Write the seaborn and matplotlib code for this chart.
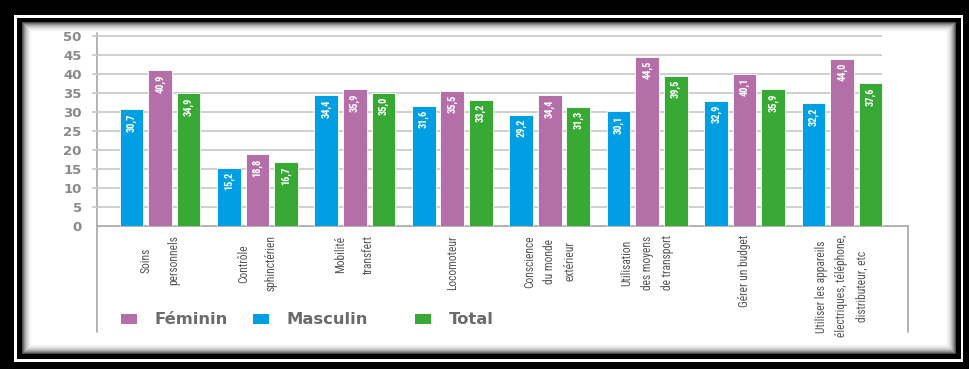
import matplotlib
matplotlib.use("Agg")
import matplotlib.pyplot as plt
import seaborn as sns
import pandas as pd
from matplotlib.patches import Rectangle
from matplotlib.lines import Line2D
from matplotlib import font_manager

# ---------------- data ----------------
categories = [
    "Soins\npersonnels",
    "Contrôle\nsphinctérien",
    "Mobilité\ntransfert",
    "Locomoteur",
    "Conscience\ndu monde\nextérieur",
    "Utilisation\ndes moyens\nde transport",
    "Gérer un budget",
    "Utiliser les appareils\nélectriques, téléphone,\ndistributeur, etc",
]
masculin = [30.7, 15.2, 34.4, 31.6, 29.2, 30.1, 32.9, 32.2]
feminin = [40.9, 18.8, 35.9, 35.5, 34.4, 44.5, 40.1, 44.0]
total = [34.9, 16.7, 35.0, 33.2, 31.3, 39.5, 35.9, 37.6]
series_order = ["Masculin", "Féminin", "Total"]
legend_order = ["Féminin", "Masculin", "Total"]
yticks = [0, 5, 10, 15, 20, 25, 30, 35, 40, 45, 50]

values = {"Masculin": masculin, "Féminin": feminin, "Total": total}
colors = {"Masculin": "#009fe3", "Féminin": "#b56fa8", "Total": "#39a935"}

rows = []
for s in series_order:
    for c, v in zip(categories, values[s]):
        rows.append({"cat": c, "serie": s, "val": v})
df = pd.DataFrame(rows)

sns.set_theme(style="white")
plt.rcParams["font.family"] = ["DejaVu Sans"]

# condensed font choice
ttf = font_manager.fontManager.ttflist
names = {f.name for f in ttf}
cond_family = None
for cand in ["Liberation Sans Narrow", "Roboto Condensed", "Open Sans Condensed", "Noto Sans Condensed"]:
    if cand in names:
        cond_family = cand
        break
if cond_family is None:
    cond_kw = {"family": ["DejaVu Sans"], "stretch": "condensed"}
else:
    cond_kw = {"family": [cond_family, "DejaVu Sans"]}

W, H = 969, 369
fig = plt.figure(figsize=(W / 100, H / 100), dpi=100)
fig.patch.set_facecolor("black")


def prect(x0, y0, x1, y1, color, z=-10):
    r = Rectangle((x0 / W, 1 - y1 / H), (x1 - x0) / W, (y1 - y0) / H,
                  transform=fig.transFigure, facecolor=color, edgecolor="none", zorder=z)
    fig.add_artist(r)


def pline(x0, y0, x1, y1, color="#a6a6a6", lw=1.2, z=-2):
    fig.add_artist(Line2D([x0 / W, x1 / W], [1 - y0 / H, 1 - y1 / H],
                          transform=fig.transFigure, color=color, lw=lw, zorder=z))


# frame
prect(14, 15, 963, 362, "white", -20)
prect(17, 18, 961, 359, "black", -19)
levels = [0.30, 0.45, 0.58, 0.68, 0.76, 0.83, 0.89, 0.93, 0.96, 0.985]
for k, g in enumerate(levels):
    prect(22 + k, 22 + k, 956 - k, 354 - k, str(g), -18 + k * 0.01)
prect(32, 32, 946, 344, "white", -17)

# axes
ax_left, ax_right, ax_top, ax_bottom = 97, 908, 36, 225.5
ax = fig.add_axes([ax_left / W, 1 - ax_bottom / H, (ax_right - ax_left) / W, (ax_bottom - ax_top) / H])
ax.set_facecolor("none")

sns.barplot(data=df, x="cat", y="val", hue="serie", hue_order=series_order,
            order=categories, palette=colors, saturation=1, width=0.88, gap=0.17,
            edgecolor="white", linewidth=0.6, ax=ax, legend=False, zorder=3)

px_unit = 97.4
xl = -(160 - ax_left) / px_unit
xr = 7 + (ax_right - 842) / px_unit
ax.set_xlim(xl, xr)
ax.set_ylim(0, 50)

for sp in ax.spines.values():
    sp.set_visible(False)

# gridlines
grid_right = 7 + (882 - 842) / px_unit
grid_left = xl - 5 / px_unit
ax.hlines(yticks[1:], grid_left, grid_right, colors="#cccccc", lw=1.3, zorder=1, clip_on=False)

# box lines
pline(97, 33, 97, 332)
pline(97, 225.5, 908, 225.5)
pline(908, 225.5, 908, 332)

ax.set_yticks(yticks)
ax.set_yticklabels([str(t) for t in yticks])
ax.tick_params(axis="y", length=0, pad=11, labelsize=9.5, labelcolor="#8a8a8a")
for t in ax.get_yticklabels():
    t.set_fontweight("bold")

ax.set_xlabel("")
ax.set_ylabel("")
ax.tick_params(axis="x", length=0, pad=7)
ax.set_xticks(range(len(categories)))
ax.set_xticklabels(categories)
for t in ax.get_xticklabels():
    nl = t.get_text().count("\n") + 1
    t.set_rotation(90)
    t.set_ha("center")
    t.set_va("top")
    t.set_multialignment("center")
    t.set_fontsize(8.3)
    t.set_family(cond_kw["family"])
    if "stretch" in cond_kw:
        t.set_stretch(cond_kw["stretch"])
    t.set_color("#555555")
    t.set_linespacing(2.45 if nl == 2 else 1.72)

# value labels
for s, cont in zip(series_order, ax.containers):
    for bar, v in zip(cont, values[s]):
        ax.annotate(f"{v:.1f}".replace(".", ","),
                    (bar.get_x() + bar.get_width() / 2, v),
                    xytext=(0, -3), textcoords="offset points",
                    rotation=90, ha="center", va="top", color="white",
                    fontsize=7.5, fontweight="bold", zorder=5, **cond_kw)

# legend: one entry per position, as in the reference
legend_x = {"Féminin": 121, "Masculin": 253, "Total": 415}
for n in legend_order:
    h = Rectangle((0, 0), 1, 1, facecolor=colors[n], edgecolor="none")
    leg = fig.legend([h], [n], loc="center left",
                     bbox_to_anchor=(legend_x[n] / W, 1 - 320 / H), frameon=False,
                     handlelength=1.0, handleheight=0.6, handletextpad=1.05,
                     borderpad=0, borderaxespad=0,
                     prop={"weight": "bold", "size": 11.8})
    for t in leg.get_texts():
        t.set_color("#6b6b6b")

fig.savefig("out.png", dpi=100, facecolor="black")
